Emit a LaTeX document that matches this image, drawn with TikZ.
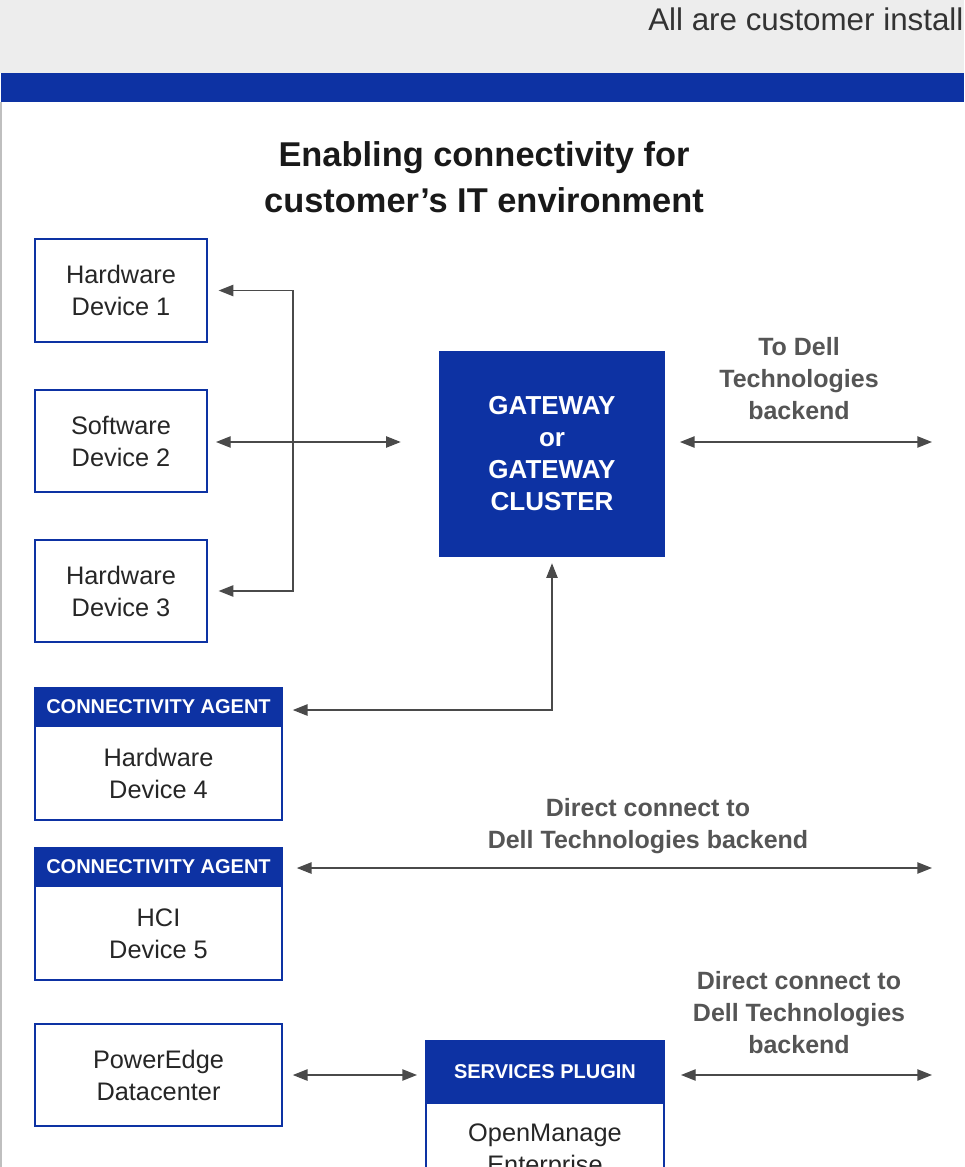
\documentclass[tikz,border=0pt]{standalone}
\usepackage{fontspec}
\setmainfont{Liberation Sans}
\usepackage{tikz}
\usetikzlibrary{arrows.meta,positioning}

\definecolor{dellblue}{RGB}{13,50,163}
\definecolor{arrowgray}{RGB}{74,74,74}
\definecolor{labelgray}{RGB}{85,85,85}
\definecolor{topgray}{RGB}{237,237,237}

\newcommand\bodyfont{\fontsize{19}{24}\selectfont}
\newcommand\headfont{\fontsize{15}{18}\selectfont\bfseries}
\newcommand\labelfont{\fontsize{18.75}{24}\selectfont\bfseries}

\begin{document}
\begin{tikzpicture}[x=0.75pt,y=0.75pt,yscale=-1,
    devbox/.style={draw=dellblue, line width=1.5pt, fill=white, align=center, font=\bodyfont, text=black!85, inner sep=0pt},
    headbox/.style={fill=dellblue, draw=dellblue, line width=1.5pt, text=white, font=\headfont, inner sep=0pt},
    lbl/.style={align=center, font=\labelfont, text=labelgray, inner sep=0pt},
    arr/.style={<->, >={Triangle[length=11pt,width=8.5pt]}, draw=arrowgray, line width=1pt}]
    \useasboundingbox (0,0) rectangle (964,1167);
    \clip (0,0) rectangle (964,1167);

    %Shape: top band and title bar
    \fill[topgray] (0,0) rectangle (964,73);
    \fill[dellblue] (1,73) rectangle (964,102);
    \draw[black!25, line width=1pt] (1,102) -- (1,1167);

    % Text Node
    \node (note) [anchor=west, inner sep=0pt, font=\fontsize{23.5}{28}\selectfont, text=black!80] at (648,19) {All are customer install};

    % Text Node
    \node (title) [align=center, inner sep=0pt, font=\fontsize{25.8}{34.5}\selectfont\bfseries, text=black!90] at (484,177) {Enabling connectivity for\\customer’s IT environment};

    %Shape: devices 1 to 3
    \node (hw1) [devbox, minimum width=129pt, minimum height=77pt] at (121,290.5) {Hardware\\Device 1};
    \node (sw2) [devbox, minimum width=129pt, minimum height=77pt] at (121,441) {Software\\Device 2};
    \node (hw3) [devbox, minimum width=129pt, minimum height=77pt] at (121,591) {Hardware\\Device 3};

    %Shape: gateway
    \node (gw) [fill=dellblue, minimum width=169.5pt, minimum height=154.5pt, align=center, text=white, font=\fontsize{19.5}{24}\selectfont\bfseries, inner sep=0pt] at (552,454) {GATEWAY\\or\\GATEWAY\\CLUSTER};

    %Shape: connectivity agents
    \node (agent4) [headbox, minimum width=185pt, minimum height=29pt] at (158.5,707) {CONNECTIVITY AGENT};
    \node (hw4) [devbox, minimum width=185pt, minimum height=70.5pt, below=-1.5pt of agent4] {Hardware\\Device 4};
    \node (agent5) [headbox, minimum width=185pt, minimum height=29pt] at (158.5,867) {CONNECTIVITY AGENT};
    \node (hci5) [devbox, minimum width=185pt, minimum height=70.5pt, below=-1.5pt of agent5] {HCI\\Device 5};

    %Shape: PowerEdge and services plugin
    \node (pe) [devbox, minimum width=185pt, minimum height=76.5pt] at (158.5,1075) {PowerEdge\\Datacenter};
    \node (plugin) [headbox, minimum width=178.5pt, minimum height=47pt] at (545,1072) {SERVICES PLUGIN};
    \node (ome) [devbox, minimum width=178.5pt, minimum height=72pt, below=-1.5pt of plugin] {OpenManage\\Enterprise};

    %Free ends towards the backend
    \coordinate (brk) at (293,442);
    \coordinate (dellgw) at (932,442);
    \coordinate (dell5) at (932,868);
    \coordinate (dellome) at (932,1075);

    %Straight Lines
    \draw[arr, shorten <=8pt, shorten >=8pt] (hw1.east) -| (brk) |- (hw3.east);
    \draw[arr, shorten <=6pt, shorten >=28.5pt] (sw2.east |- brk) -- (gw.west |- brk);
    \draw[arr, shorten <=11pt] (gw.east |- dellgw) -- (dellgw);
    \draw[arr, shorten <=4.5pt, shorten >=7.5pt] (gw.south) |- ([yshift=2.25pt]agent4.east);
    \draw[arr, shorten <=10.5pt] (agent5.east |- dell5) -- (dell5);
    \draw[arr, shorten <=7.5pt, shorten >=6pt] (pe.east) -- (plugin.west |- pe.east);
    \draw[arr, shorten <=12pt] (plugin.east |- dellome) -- (dellome);

    % Text Node
    \node (lblgw) [lbl] at (799,379) {To Dell\\Technologies\\backend};
    % Text Node
    \node (lbl5) [lbl] at (648,826) {Direct connect to\\Dell Technologies backend};
    % Text Node
    \node (lblome) [lbl] at (799,1013) {Direct connect to\\Dell Technologies\\backend};

\end{tikzpicture}
\end{document}
